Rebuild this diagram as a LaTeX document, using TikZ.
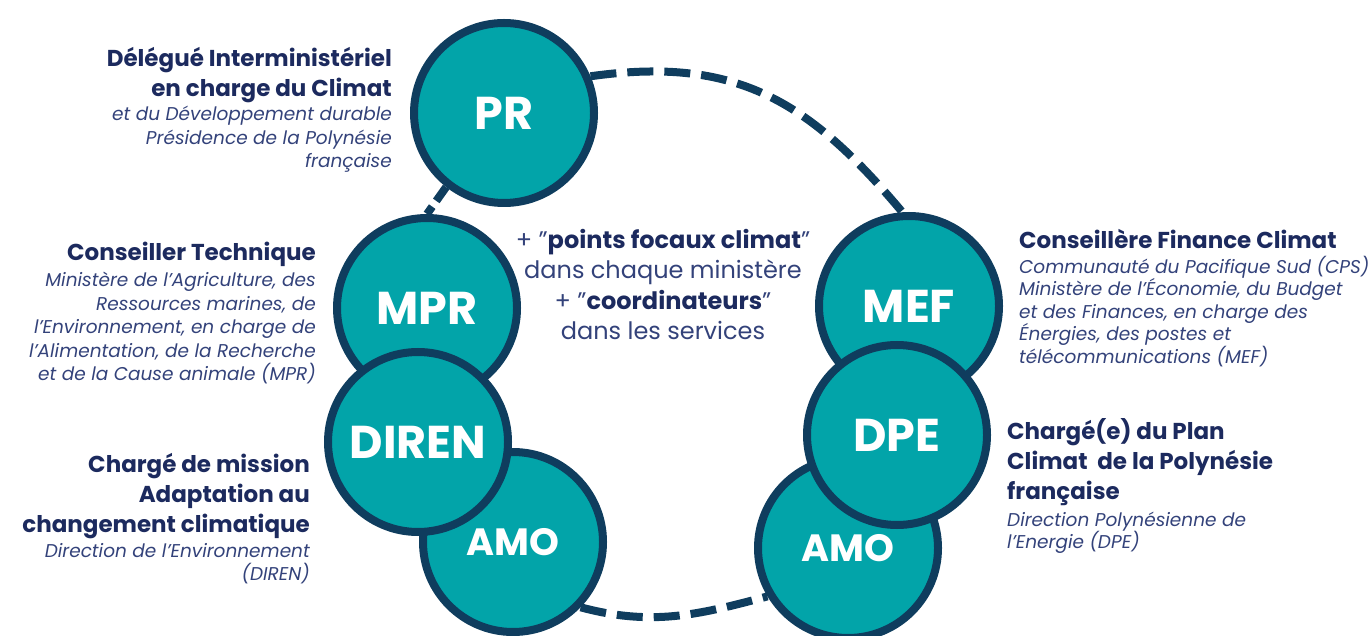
\documentclass[tikz,border=0pt]{standalone}
\usepackage{fontspec}
\setmainfont{Poppins}
\usetikzlibrary{positioning}

\definecolor{navy}{HTML}{1C2A5E}
\definecolor{ink}{HTML}{33427A}
\definecolor{lagoon}{HTML}{02A4A9}
\definecolor{rim}{HTML}{0F3D5E}

\tikzset{
  actor/.style={circle, fill=lagoon, draw=rim, line width=8pt,
    minimum size=180pt, inner sep=0pt, text=white,
    font=\bfseries\fontsize{46}{46}\selectfont},
  smallactor/.style={actor, font=\bfseries\fontsize{38}{38}\selectfont},
  head/.style={text=navy, inner sep=0pt,
    font=\bfseries\fontsize{23}{30}\selectfont},
  info/.style={text=ink, inner sep=0pt,
    font=\itshape\fontsize{18.5}{23.5}\selectfont},
  link/.style={draw=rim, line width=8pt, dash pattern=on 26pt off 11pt},
}

\begin{document}
\begin{tikzpicture}[x=1pt, y=1pt]
\useasboundingbox (0,0) rectangle (1372,635);

% circles on the left
\node[actor] (pr) at (504,522) {PR};
\node[actor] (mpr) at (427,327) {MPR};
\node[smallactor] (amoleft) at (513,93) {AMO};
\node[actor] (diren) at (418,193) {DIREN};

% circles on the right
\node[actor] (mef) at (909,329) {MEF};
\node[smallactor] (amoright) at (848,87) {AMO};
\node[actor] (dpe) at (897,200) {DPE};

% dashed ring
\draw[link] (pr.23) to[out=8, in=130, looseness=1.1] (mef.94);
\draw[link, dash pattern=on 17pt off 7pt] (pr.232) -- (mpr.north);
\draw[link] (amoleft.-44) to[out=-15, in=195] (amoright.211);

% texts
\node[head, anchor=north east, align=right] (prhead) at (392,588)
  {Délégué Interministériel\\en charge du Climat};
\node[info, below=3pt of prhead.south east, anchor=north east, align=right] (prinfo)
  {et du Développement durable\\Présidence de la Polynésie\\française};

\node[head, anchor=north east, align=right] (mprhead) at (316,393)
  {Conseiller Technique};
\node[info, below=5pt of mprhead.south east, anchor=north east, align=right] (mprinfo)
  {Ministère de l’Agriculture, des\\Ressources marines, de\\l’Environnement, en charge de\\l’Alimentation, de la Recherche\\et de la Cause animale (MPR)};

\node[head, anchor=north east, align=right] (direnhead) at (310,182)
  {Chargé de mission\\Adaptation au\\changement climatique};
\node[info, below=4pt of direnhead.south east, anchor=north east, align=right] (direninfo)
  {Direction de l’Environnement\\(DIREN)};

\node[head, anchor=north west, align=left] (mefhead) at (1019,406)
  {Conseillère Finance Climat};
\node[info, below=7pt of mefhead.south west, anchor=north west, align=left,
  font=\itshape\fontsize{18.5}{22.5}\selectfont] (mefinfo)
  {Communauté du Pacifique Sud (CPS)\\Ministère de l’Économie, du Budget\\et des Finances, en charge des\\Énergies, des postes et\\télécommunications (MEF)};

\node[head, anchor=north west, align=left] (dpehead) at (1007,217)
  {Chargé(e) du Plan\\Climat~ de la Polynésie\\française};
\node[info, below=6pt of dpehead.south west, anchor=north west, align=left,
  font=\itshape\fontsize{18.5}{22.5}\selectfont] (dpeinfo)
  {Direction Polynésienne de\\l’Energie (DPE)};

\node[text=ink, align=center, anchor=north, inner sep=0pt,
  font=\fontsize{24}{30.5}\selectfont] (focal) at (663,406)
  {+ "\textcolor{navy}{\textbf{points focaux climat}}"\\dans chaque ministère\\+ "\textcolor{navy}{\textbf{coordinateurs}}"\\dans les services};
\end{tikzpicture}
\end{document}
